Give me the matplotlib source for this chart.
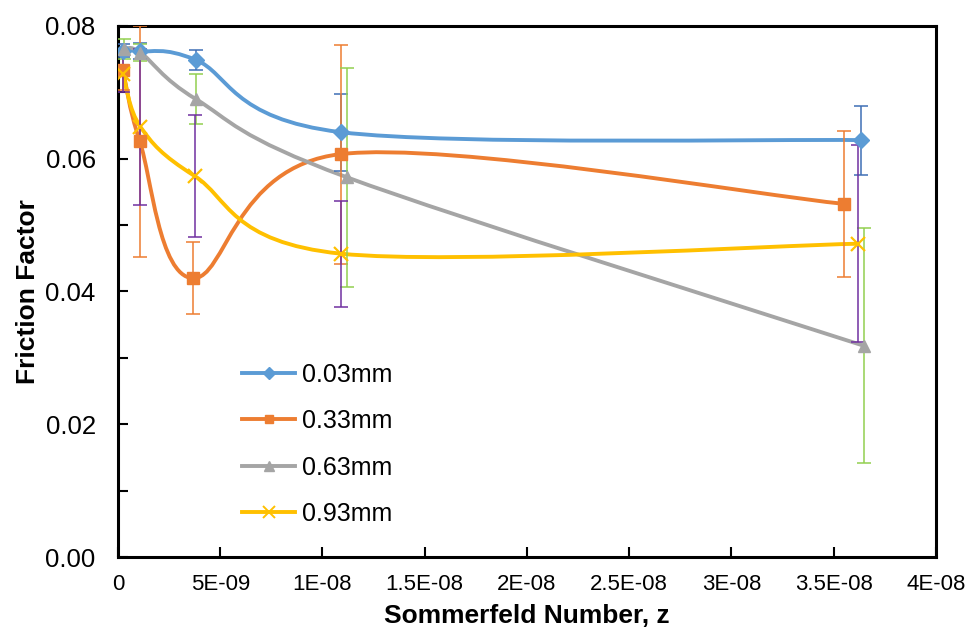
"""
Friction factor vs Sommerfeld number, four clearances, Excel-style smoothed lines
"""
import numpy as np
import matplotlib
matplotlib.use("Agg")
import matplotlib.pyplot as plt
from matplotlib.path import Path
from matplotlib.patches import PathPatch
from matplotlib.lines import Line2D
from matplotlib.ticker import MultipleLocator, FixedLocator

plt.rcParams["font.family"] = ["Liberation Sans", "DejaVu Sans"]

# ── data ───────────────────────────────────────────────────────────────────
labels = ["0.03mm", "0.33mm", "0.63mm", "0.93mm"]

x_003 = [2.5e-10, 1.1e-9, 3.8e-9, 1.09e-8, 3.635e-8]
y_003 = [0.0763, 0.0762, 0.0749, 0.0640, 0.0628]
e_003 = [0.0010, 0.0012, 0.0015, 0.0058, 0.0052]

x_033 = [2.5e-10, 1.07e-9, 3.65e-9, 1.09e-8, 3.55e-8]
y_033 = [0.0733, 0.0626, 0.0420, 0.0607, 0.0532]
e_033 = [0.0030, 0.0174, 0.0054, 0.0165, 0.0110]

x_063 = [3.0e-10, 1.1e-9, 3.8e-9, 1.12e-8, 3.65e-8]
y_063 = [0.0765, 0.0760, 0.0690, 0.0572, 0.0318]
e_063 = [0.0015, 0.0013, 0.0038, 0.0165, 0.0177]

x_093 = [2.5e-10, 1.1e-9, 3.75e-9, 1.09e-8, 3.62e-8]
y_093 = [0.0728, 0.0648, 0.0574, 0.0457, 0.0472]
e_093 = [0.0028, 0.0118, 0.0092, 0.0080, 0.0148]

xticks = [0, 5e-9, 1e-8, 1.5e-8, 2e-8, 2.5e-8, 3e-8, 3.5e-8, 4e-8]
xticklabels = ["0", "5E-09", "1E-08", "1.5E-08", "2E-08", "2.5E-08", "3E-08", "3.5E-08", "4E-08"]
yticks = [0.0, 0.02, 0.04, 0.06, 0.08]

series = [
    (x_003, y_003, e_003, "#5B9BD5", "D", 8, "#3F6FB5"),
    (x_033, y_033, e_033, "#ED7D31", "s", 8, "#ED7D31"),
    (x_063, y_063, e_063, "#A5A5A5", "^", 9, "#92D050"),
    (x_093, y_093, e_093, "#FFC000", "x", 10, "#7030A0"),
]


def smooth_path(xs, ys):
    """Bezier path through the points (Catmull-Rom control points, like Excel's smoothing)."""
    pts = np.column_stack([xs, ys])
    n = len(pts)
    verts = [pts[0]]
    codes = [Path.MOVETO]
    for i in range(n - 1):
        p0 = pts[max(i - 1, 0)]
        p1 = pts[i]
        p2 = pts[i + 1]
        p3 = pts[min(i + 2, n - 1)]
        verts += [p1 + (p2 - p0) / 6, p2 - (p3 - p1) / 6, p2]
        codes += [Path.CURVE4] * 3
    return Path(verts, codes)


# ── figure ─────────────────────────────────────────────────────────────────
fig = plt.figure(figsize=(9.7, 6.33), dpi=100)
ax = fig.add_axes([0.1216, 0.120, 0.8433, 0.839])

handles = []
for (xs, ys, es, col, mk, ms, ecol), lbl in zip(series, labels):
    ax.add_patch(PathPatch(smooth_path(xs, ys), fill=False, edgecolor=col,
                           lw=2.8, capstyle="round", joinstyle="round", zorder=3))
    ax.errorbar(xs, ys, yerr=es, fmt="none", ecolor=ecol, elinewidth=1.1,
                capsize=5, capthick=1.1, zorder=4)
    if mk == "x":
        ax.plot(xs, ys, ls="none", marker=mk, ms=ms, mew=1.6, color=col, zorder=5)
    else:
        ax.plot(xs, ys, ls="none", marker=mk, ms=ms, color=col, zorder=5)
    handles.append(Line2D([0], [0], color=col, lw=2.8, marker=mk,
                          ms=ms - 2, mew=1.4 if mk == "x" else 1))

ax.set_xlim(0, 4e-8)
ax.set_ylim(0, 0.08)
ax.xaxis.set_major_locator(FixedLocator(xticks))
ax.set_xticklabels(xticklabels)
ax.set_yticks(yticks)
ax.set_yticklabels([f"{v:.2f}" for v in yticks])
ax.yaxis.set_minor_locator(MultipleLocator(0.01))

ax.tick_params(axis="both", which="both", direction="in", length=7, width=1.5,
               color="black")
ax.tick_params(axis="y", which="major", labelsize=18.5, pad=16)
ax.tick_params(axis="x", which="major", labelsize=16, pad=12)
for s in ax.spines.values():
    s.set_linewidth(2.2)
    s.set_color("black")

ax.set_xlabel("Sommerfeld Number, z", fontsize=19, fontweight="bold", labelpad=7)
ax.set_ylabel("Friction Factor", fontsize=19, fontweight="bold", labelpad=4)

ax.legend(handles, labels, loc="upper left", bbox_to_anchor=(0.140, 0.385),
          frameon=False, fontsize=18, handlelength=2.1, handletextpad=0.3,
          labelspacing=0.9, borderaxespad=0)

fig.savefig("out.png", dpi=100)
plt.close(fig)
